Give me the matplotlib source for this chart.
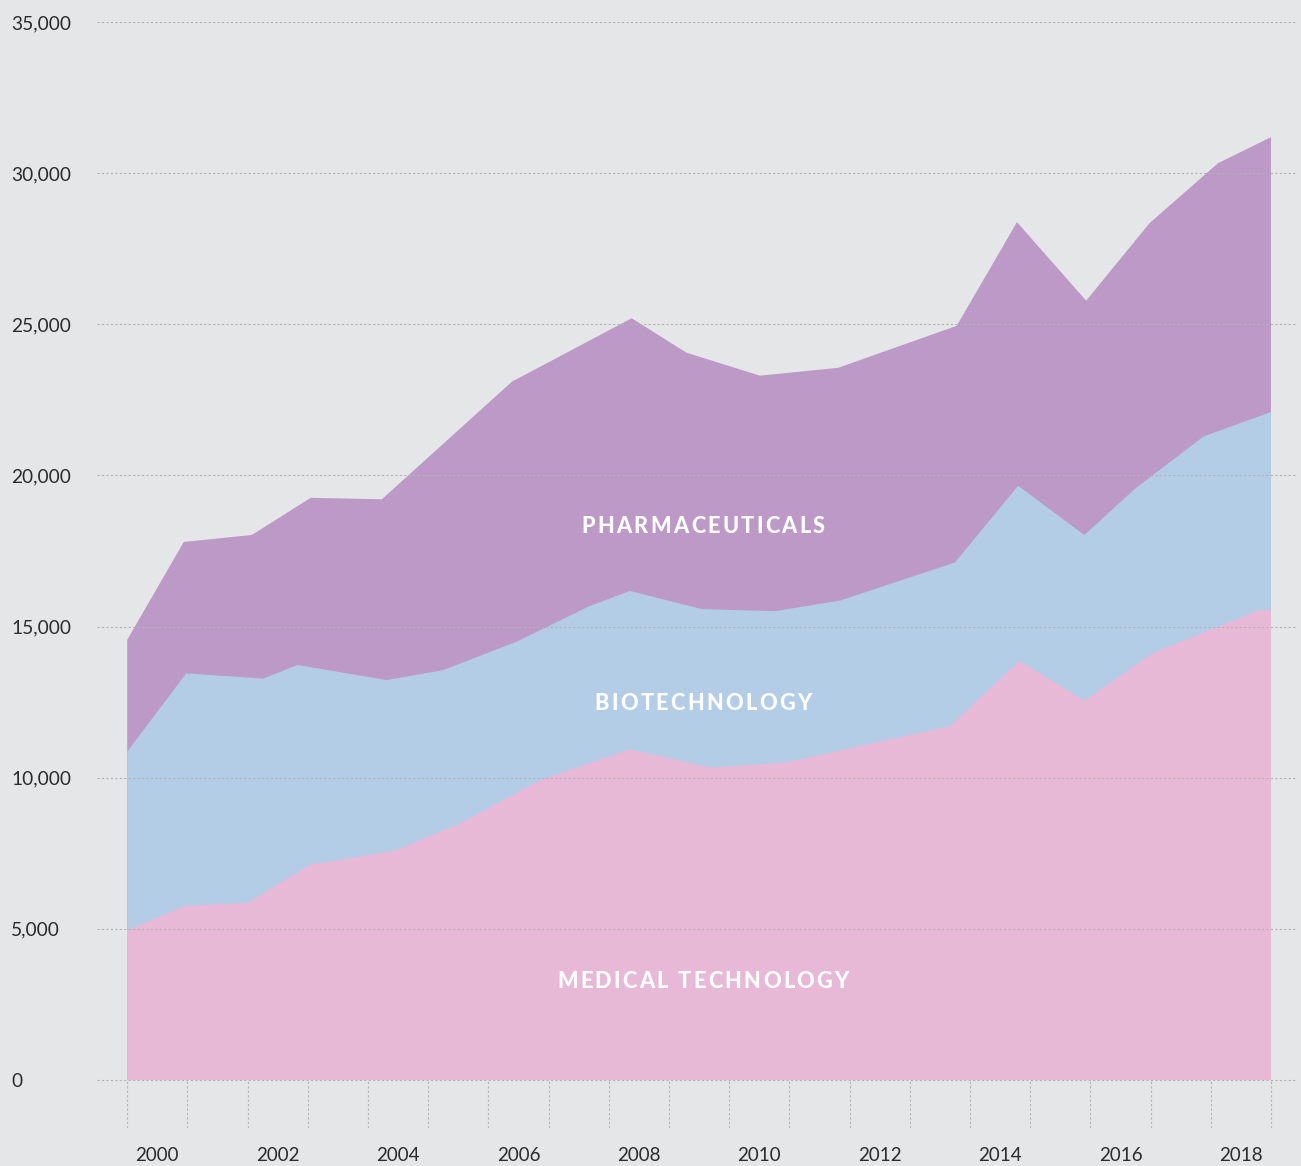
import matplotlib
matplotlib.use("Agg")
import matplotlib.pyplot as plt
from matplotlib import font_manager
from matplotlib.font_manager import FontProperties
from matplotlib.ft2font import FT2Font
from matplotlib.transforms import offset_copy

# ---------------- data ----------------
year_edges = list(range(2000, 2020))
label_years = [2000, 2002, 2004, 2006, 2008, 2010, 2012, 2014, 2016, 2018]
y_ticks = [0, 5000, 10000, 15000, 20000, 25000, 30000, 35000]

# top boundary of the medical technology layer
medical_x = [2000.0, 2000.96, 2002.01, 2003.02, 2004.45, 2005.53, 2006.86, 2008.35,
             2009.68, 2010.93, 2013.67, 2014.82, 2015.90, 2017.04, 2018.82, 2019.0]
medical_top = [4960, 5760, 5870, 7110, 7590, 8490, 9920, 10940,
               10340, 10500, 11710, 13870, 12550, 14130, 15560, 15530]

# top boundary of the biotechnology layer (medical + biotech)
biotech_x = [2000.0, 2000.98, 2002.26, 2002.83, 2004.31, 2005.25, 2006.47, 2007.66,
             2008.35, 2009.54, 2010.76, 2011.84, 2013.75, 2014.80, 2015.90, 2016.74,
             2017.88, 2019.0]
biotech_top = [10860, 13450, 13280, 13730, 13230, 13560, 14500, 15660,
               16180, 15580, 15510, 15860, 17120, 19660, 18030, 19560,
               21290, 22100]

# top boundary of the pharmaceuticals layer (total)
pharma_x = [2000.0, 2000.94, 2002.07, 2003.05, 2004.23, 2006.39, 2008.38, 2009.29,
            2010.51, 2011.81, 2013.78, 2014.78, 2015.93, 2016.98, 2018.12, 2019.0]
pharma_top = [14560, 17800, 18030, 19260, 19210, 23100, 25200, 24060,
              23300, 23560, 24950, 28380, 25780, 28340, 30330, 31190]

layer_names = ["PHARMACEUTICALS", "BIOTECHNOLOGY", "MEDICAL TECHNOLOGY"]
layer_label_y = [18085, 12240, 3033]
label_center_x = 2009.565

# ---------------- style ----------------
BG = "#e5e6e8"
C_PHARMA = "#bc99c6"
C_BIO = "#b2cde5"
C_MED = "#e8b9d6"
GRID = "#b3b3b3"
TXT = "#2b2b2b"

W, H = 1301, 1166
fig = plt.figure(figsize=(W / 100, H / 100), dpi=100)
fig.patch.set_facecolor(BG)

ax_left, ax_right, ax_top, ax_bottom = 97, 1297, 22, 1128
ax = fig.add_axes([ax_left / W, (H - ax_bottom) / H,
                   (ax_right - ax_left) / W, (ax_bottom - ax_top) / H])
ax.set_facecolor(BG)

px_per_year = (1271 - 127.2) / 19
px_per_unit = (1080 - 22) / 35000
ax.set_xlim(2000 - (127.2 - ax_left) / px_per_year,
            2000 + (ax_right - 127.2) / px_per_year)
ax.set_ylim(-(ax_bottom - 1080) / px_per_unit, 35000)

# layers drawn from back to front, each down to zero (no seams)
for xs, ys, col in [(pharma_x, pharma_top, C_PHARMA),
                    (biotech_x, biotech_top, C_BIO),
                    (medical_x, medical_top, C_MED)]:
    ax.fill(list(xs) + [xs[-1], xs[0]], list(ys) + [0, 0],
            color=col, lw=0, zorder=1)

# grid
ax.set_yticks(y_ticks)
ax.set_yticklabels([f"{v:,}" for v in y_ticks])
ax.yaxis.grid(True, color=GRID, linestyle=(0, (2, 2)), lw=0.8)
ax.xaxis.grid(False)
ax.set_axisbelow(False)

ax.vlines(year_edges, ax.get_ylim()[0], 0, colors=GRID,
          linestyles=(0, (2, 2)), lw=0.8, zorder=0.5)

ax.set_xticks([y + 0.5 for y in label_years])
ax.set_xticklabels([str(y) for y in label_years])

for s in ax.spines.values():
    s.set_visible(False)

tick_family = ["Lato", "DejaVu Sans"]
ax.tick_params(axis="y", length=0, pad=(ax_left - 11) * 0.72,
               labelsize=13.8, labelcolor=TXT)
ax.tick_params(axis="x", length=0, pad=13.5, labelsize=13.5, labelcolor=TXT)
for lbl in ax.get_yticklabels() + ax.get_xticklabels():
    lbl.set_fontfamily(tick_family)
    lbl.set_fontweight("normal")
for lbl in ax.get_yticklabels():
    lbl.set_ha("left")


def spaced_text(ax, x, y, text, size, spacing, color):
    prop = FontProperties(family="Lato", weight=900, size=size)
    path = font_manager.findfont(prop)
    font = FT2Font(path)
    font.set_size(size, 72)
    advs = []
    for ch in text:
        g = font.load_char(ord(ch))
        advs.append(g.linearHoriAdvance / 65536.0)
    total = sum(advs) + spacing * (len(text) - 1)
    pos = -total / 2.0
    for ch, a in zip(text, advs):
        if ch != " ":
            tr = offset_copy(ax.transData, fig=ax.figure, x=pos, y=0, units="points")
            ax.text(x, y, ch, transform=tr, ha="left", va="baseline",
                    fontproperties=prop, color=color, zorder=5)
        pos += a + spacing


for name, yv in zip(layer_names, layer_label_y):
    spaced_text(ax, label_center_x, yv, name, 15.7, 1.6, "white")

fig.savefig("out.png", dpi=100, facecolor=BG)
